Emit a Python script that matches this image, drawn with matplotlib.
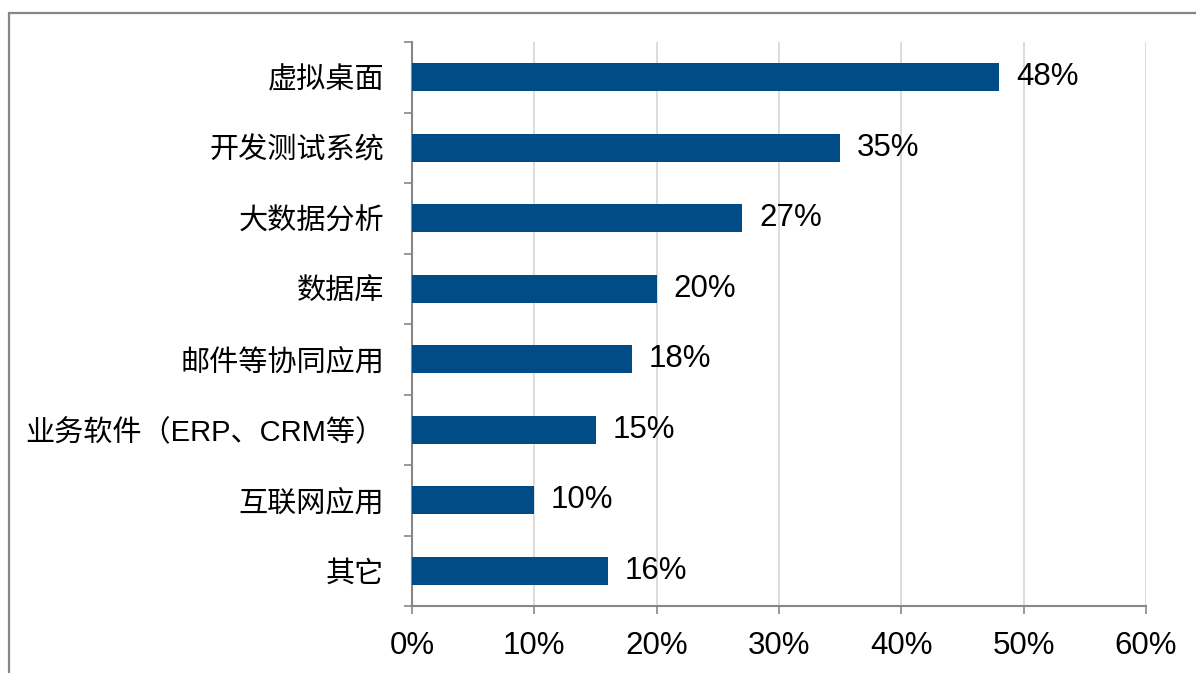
import matplotlib.pyplot as plt
from matplotlib.patches import Rectangle
from matplotlib.ticker import FixedLocator, PercentFormatter

plt.rcParams['font.family'] = ['Liberation Sans', 'Noto Sans CJK SC', 'DejaVu Sans']

# Data
categories = ['虚拟桌面', '开发测试系统', '大数据分析', '数据库', '邮件等协同应用',
              '业务软件（ERP、CRM等）', '互联网应用', '其它']
values = [48, 35, 27, 20, 18, 15, 10, 16]
xticks = [0, 10, 20, 30, 40, 50, 60]

fig = plt.figure(figsize=(11.96, 6.73), dpi=100)
ax = fig.add_axes([412 / 1196, 1 - 606 / 673, (1146 - 412) / 1196, (606 - 42) / 673])

# Outer gray frame (cut off at right and bottom like the source)
fig.patches.append(Rectangle((9 / 1196, -0.2), 1.2, 1.2 - 13 / 673,
                             transform=fig.transFigure, fill=False,
                             edgecolor='#878787', linewidth=1.6))

pos = list(range(len(categories)))
bars = ax.barh(pos, values, height=0.4, color='#004C87', zorder=3)
labels = ax.bar_label(bars, labels=[f'{v}%' for v in values], padding=12, fontsize=22.5)
for t in labels:
    t.set_y(t.get_position()[1])

ax.set_xlim(0, 60)
ax.set_ylim(len(categories) - 0.5, -0.5)
ax.set_xticks(xticks)
ax.xaxis.set_major_formatter(PercentFormatter(decimals=0))
ax.set_yticks(pos)
ax.set_yticklabels(categories)
ax.yaxis.set_minor_locator(FixedLocator([i - 0.5 for i in range(len(categories) + 1)]))

ax.tick_params(axis='y', which='major', length=0, pad=20, labelsize=21)
ax.tick_params(axis='y', which='minor', length=6, width=1.2, color='#878787')
ax.tick_params(axis='x', which='major', length=6, width=1.2, color='#878787',
               pad=12, labelsize=22.5)

ax.grid(axis='x', color='#d9d9d9', linewidth=1.3, zorder=0)
for side in ['top', 'right']:
    ax.spines[side].set_visible(False)
for side in ['left', 'bottom']:
    ax.spines[side].set_color('#878787')
    ax.spines[side].set_linewidth(1.5)

fig.savefig('out.png', dpi=100)
